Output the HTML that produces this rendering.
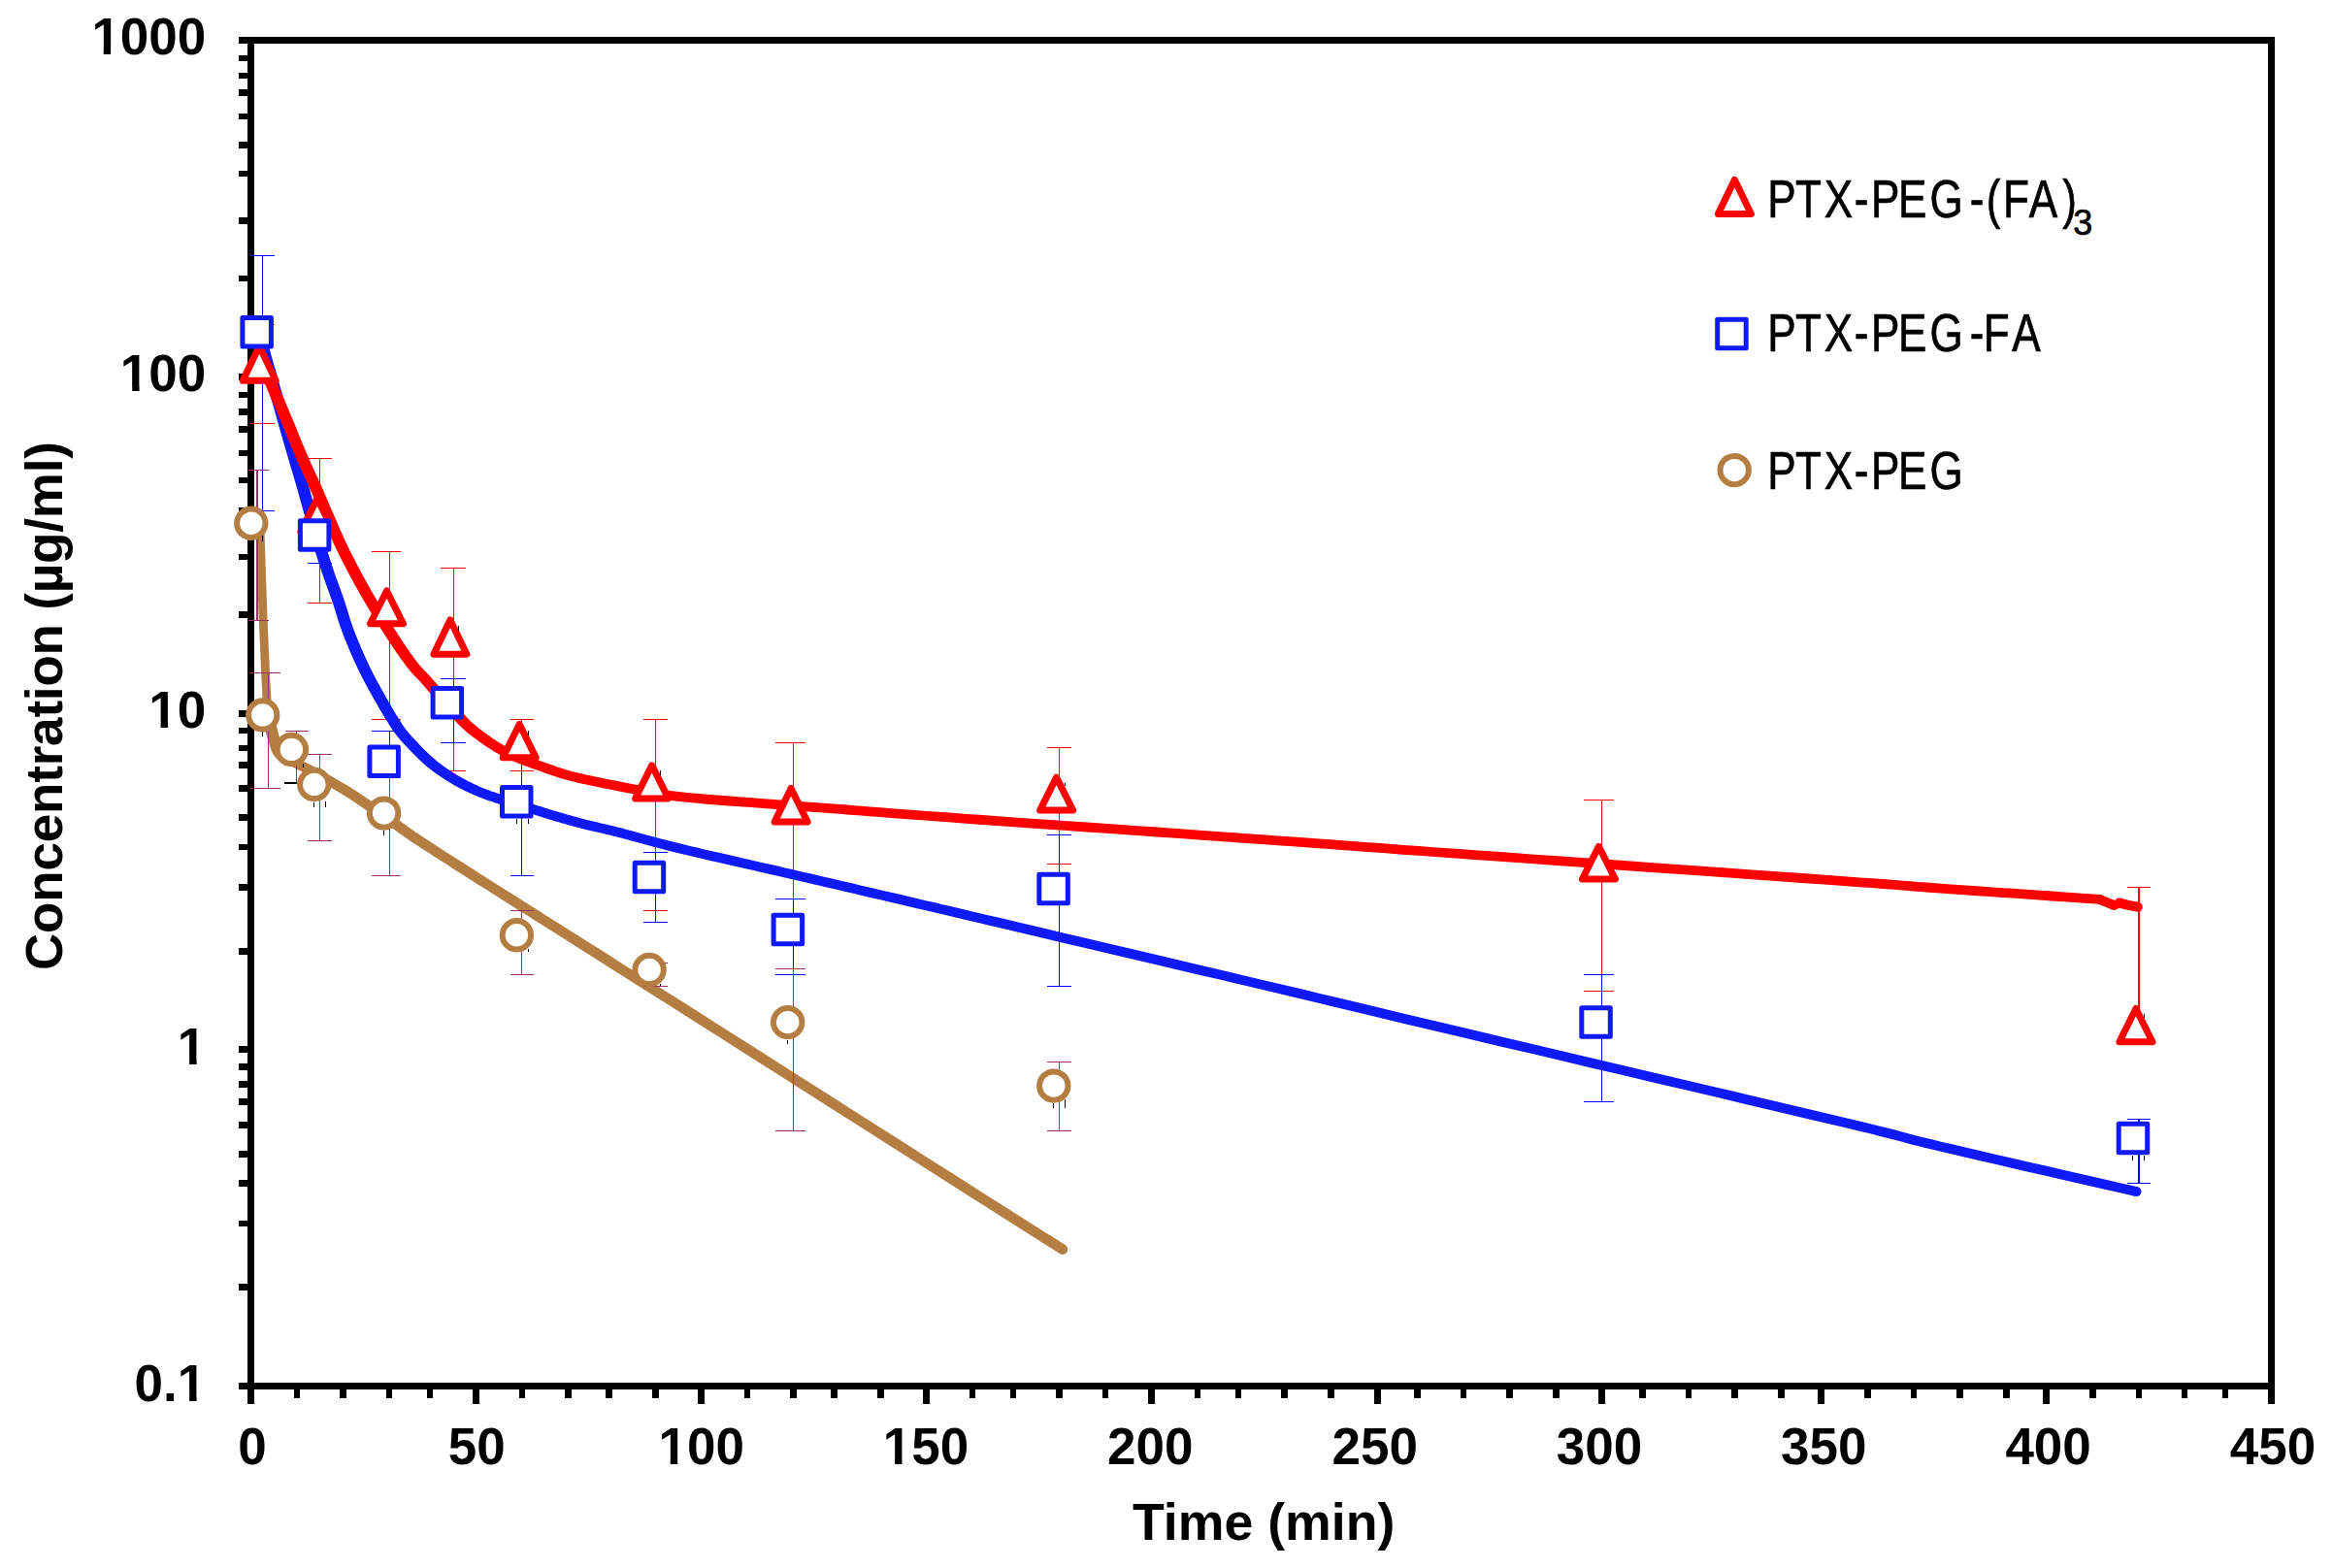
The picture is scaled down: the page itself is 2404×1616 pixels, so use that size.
<!DOCTYPE html>
<html lang="en"><head><meta charset="utf-8"><title>Concentration vs Time</title>
<style>html,body{margin:0;padding:0;background:#fff}svg{display:block}.ax{font-family:"Liberation Sans",Arial,sans-serif;font-weight:bold;font-size:53px;fill:#000}.lg{font-family:"Liberation Sans",Arial,sans-serif;font-size:55.1px;fill:#000;stroke:#000;stroke-width:0.7px}</style></head><body>
<svg width="2404" height="1616" viewBox="0 0 2404 1616">
<rect width="2404" height="1616" fill="#fff"/>
<g fill="#000" shape-rendering="crispEdges">
<rect x="246" y="38" width="2098" height="7"/>
<rect x="255" y="38" width="7" height="1409"/>
<rect x="2337" y="38" width="7" height="1409"/>
<rect x="246" y="1425" width="2098" height="7"/>
<rect x="246" y="384.8" width="10" height="7"/>
<rect x="246" y="731.5" width="10" height="7"/>
<rect x="246" y="1078.4" width="10" height="7"/>
<rect x="246" y="56.8" width="10" height="6.4"/>
<rect x="246" y="74.7" width="10" height="6.4"/>
<rect x="246" y="92.2" width="10" height="6.4"/>
<rect x="246" y="116.5" width="10" height="6.4"/>
<rect x="246" y="146.2" width="10" height="6.4"/>
<rect x="246" y="175.9" width="10" height="6.4"/>
<rect x="246" y="224.1" width="10" height="6.4"/>
<rect x="246" y="283.5" width="10" height="6.4"/>
<rect x="246" y="403.5" width="10" height="6.4"/>
<rect x="246" y="421.2" width="10" height="6.4"/>
<rect x="246" y="439.3" width="10" height="6.4"/>
<rect x="246" y="463.6" width="10" height="6.4"/>
<rect x="246" y="491.9" width="10" height="6.4"/>
<rect x="246" y="522.7" width="10" height="6.4"/>
<rect x="246" y="570.7" width="10" height="6.4"/>
<rect x="246" y="630.1" width="10" height="6.4"/>
<rect x="246" y="749.5" width="10" height="6.4"/>
<rect x="246" y="767.7" width="10" height="6.4"/>
<rect x="246" y="785.4" width="10" height="6.4"/>
<rect x="246" y="809.4" width="10" height="6.4"/>
<rect x="246" y="839.2" width="10" height="6.4"/>
<rect x="246" y="869.5" width="10" height="6.4"/>
<rect x="246" y="911.4" width="10" height="6.4"/>
<rect x="246" y="977.3" width="10" height="6.4"/>
<rect x="246" y="1096.3" width="10" height="6.4"/>
<rect x="246" y="1114.2" width="10" height="6.4"/>
<rect x="246" y="1132.1" width="10" height="6.4"/>
<rect x="246" y="1156.3" width="10" height="6.4"/>
<rect x="246" y="1186.1" width="10" height="6.4"/>
<rect x="246" y="1216.2" width="10" height="6.4"/>
<rect x="246" y="1257.6" width="10" height="6.4"/>
<rect x="246" y="1323.4" width="10" height="6.4"/>
<rect x="487.3" y="1431" width="7" height="16"/>
<rect x="719.3" y="1431" width="7" height="16"/>
<rect x="951.3" y="1431" width="7" height="16"/>
<rect x="1183.3" y="1431" width="7" height="16"/>
<rect x="1415.5" y="1431" width="7" height="16"/>
<rect x="1647.4" y="1431" width="7" height="16"/>
<rect x="1873.1" y="1431" width="7" height="16"/>
<rect x="2105.4" y="1431" width="7" height="16"/>
<rect x="302.7" y="1431" width="6.4" height="10"/>
<rect x="350.3" y="1431" width="6.4" height="10"/>
<rect x="397.8" y="1431" width="6.4" height="10"/>
<rect x="439.8" y="1431" width="6.4" height="10"/>
<rect x="534.7" y="1431" width="6.4" height="10"/>
<rect x="582.2" y="1431" width="6.4" height="10"/>
<rect x="624.2" y="1431" width="6.4" height="10"/>
<rect x="672.3" y="1431" width="6.4" height="10"/>
<rect x="766.9" y="1431" width="6.4" height="10"/>
<rect x="814.2" y="1431" width="6.4" height="10"/>
<rect x="856.3" y="1431" width="6.4" height="10"/>
<rect x="904.2" y="1431" width="6.4" height="10"/>
<rect x="998.7" y="1431" width="6.4" height="10"/>
<rect x="1040.7" y="1431" width="6.4" height="10"/>
<rect x="1088.3" y="1431" width="6.4" height="10"/>
<rect x="1136.0" y="1431" width="6.4" height="10"/>
<rect x="1231.0" y="1431" width="6.4" height="10"/>
<rect x="1272.6" y="1431" width="6.4" height="10"/>
<rect x="1320.3" y="1431" width="6.4" height="10"/>
<rect x="1368.1" y="1431" width="6.4" height="10"/>
<rect x="1457.2" y="1431" width="6.4" height="10"/>
<rect x="1504.6" y="1431" width="6.4" height="10"/>
<rect x="1552.2" y="1431" width="6.4" height="10"/>
<rect x="1600.1" y="1431" width="6.4" height="10"/>
<rect x="1689.2" y="1431" width="6.4" height="10"/>
<rect x="1736.8" y="1431" width="6.4" height="10"/>
<rect x="1784.2" y="1431" width="6.4" height="10"/>
<rect x="1832.2" y="1431" width="6.4" height="10"/>
<rect x="1921.1" y="1431" width="6.4" height="10"/>
<rect x="1969.0" y="1431" width="6.4" height="10"/>
<rect x="2016.3" y="1431" width="6.4" height="10"/>
<rect x="2064.2" y="1431" width="6.4" height="10"/>
<rect x="2153.3" y="1431" width="6.4" height="10"/>
<rect x="2200.7" y="1431" width="6.4" height="10"/>
<rect x="2248.0" y="1431" width="6.4" height="10"/>
<rect x="2290.0" y="1431" width="6.4" height="10"/>
</g>
<text class="ax" x="212.3" y="56.0" text-anchor="end">1000</text>
<text class="ax" x="212.3" y="403.0" text-anchor="end">100</text>
<text class="ax" x="212.3" y="750.0" text-anchor="end">10</text>
<text class="ax" x="212.3" y="1096.5" text-anchor="end">1</text>
<text class="ax" x="212.3" y="1443.5" text-anchor="end">0.1</text>
<text class="ax" x="260.0" y="1508.5" text-anchor="middle">0</text>
<text class="ax" x="491.3" y="1508.5" text-anchor="middle">50</text>
<text class="ax" x="722.7" y="1508.5" text-anchor="middle">100</text>
<text class="ax" x="954.0" y="1508.5" text-anchor="middle">150</text>
<text class="ax" x="1185.3" y="1508.5" text-anchor="middle">200</text>
<text class="ax" x="1416.7" y="1508.5" text-anchor="middle">250</text>
<text class="ax" x="1648.0" y="1508.5" text-anchor="middle">300</text>
<text class="ax" x="1879.3" y="1508.5" text-anchor="middle">350</text>
<text class="ax" x="2110.6" y="1508.5" text-anchor="middle">400</text>
<text class="ax" x="2342.0" y="1508.5" text-anchor="middle">450</text>
<rect x="96.7" y="50.0" width="10.0" height="7" fill="#fff"/>
<rect x="114.1" y="50.0" width="9.6" height="7" fill="#fff"/>
<rect x="126.2" y="397.0" width="10.0" height="7" fill="#fff"/>
<rect x="143.6" y="397.0" width="9.6" height="7" fill="#fff"/>
<rect x="155.6" y="744.0" width="10.0" height="7" fill="#fff"/>
<rect x="173.1" y="744.0" width="9.6" height="7" fill="#fff"/>
<rect x="185.1" y="1090.5" width="10.0" height="7" fill="#fff"/>
<rect x="202.6" y="1090.5" width="9.6" height="7" fill="#fff"/>
<rect x="185.1" y="1437.5" width="10.0" height="7" fill="#fff"/>
<rect x="202.6" y="1437.5" width="9.6" height="7" fill="#fff"/>
<rect x="680.7" y="1502.5" width="10.0" height="7" fill="#fff"/>
<rect x="698.2" y="1502.5" width="9.6" height="7" fill="#fff"/>
<rect x="912.1" y="1502.5" width="10.0" height="7" fill="#fff"/>
<rect x="929.5" y="1502.5" width="9.6" height="7" fill="#fff"/>
<text class="ax" x="1302.2" y="1587" text-anchor="middle" textLength="270.3" lengthAdjust="spacingAndGlyphs">Time (min)</text>
<text class="ax" transform="translate(63.5 727.5) rotate(-90)" text-anchor="middle" textLength="545" lengthAdjust="spacing">Concentration (µg/ml)</text>
<g shape-rendering="crispEdges">
<path d="M270.6 334.6V436.6M257.8 334.6H282.6M257.8 436.6H282.6" stroke="#FF0000" stroke-width="1.4" fill="none"/>
<path d="M329.5 472.7V621.6M317.2 472.7H342.0M317.2 621.6H342.0" stroke="#FF0000" stroke-width="1.4" fill="none"/>
<path d="M401.5 568.4V741.4M383.3 568.4H412.7M383.3 741.4H412.7" stroke="#FF0000" stroke-width="1.4" fill="none"/>
<path d="M467.6 585.5V794.4M454.2 585.5H479.8M454.2 794.4H479.8" stroke="#FF0000" stroke-width="1.4" fill="none"/>
<path d="M537.6 741.4V794.4M526.2 741.4H549.9M526.2 794.4H549.9" stroke="#FF0000" stroke-width="1.4" fill="none"/>
<path d="M675.5 741.3V938.5M663.2 741.3H687.8M663.2 938.5H687.8" stroke="#FF0000" stroke-width="1.4" fill="none"/>
<path d="M1091.4 770.4V890.4M1079.2 770.4H1103.7M1079.2 890.4H1103.7" stroke="#FF0000" stroke-width="1.4" fill="none"/>
<path d="M1650.5 824.4V1021.3M1632.1 824.4H1662.8M1632.1 1021.3H1662.8" stroke="#FF0000" stroke-width="1.4" fill="none"/>
<path d="M817.6 765.5V930M799.2 765.5H830M2204.1 914.3V1056M2192.1 914.3H2216.1" stroke="#FF0000" stroke-width="1.4" fill="none"/>
<path d="M270.6 263.5V526.6M257.8 263.5H282.6M257.8 526.6H282.6" stroke="#0000FF" stroke-width="1.4" fill="none"/>
<path d="M329.5 528.0V580.5M317.2 528.0H342.0M317.2 580.5H342.0" stroke="#0000FF" stroke-width="1.4" fill="none"/>
<path d="M467.6 699.6V765.6M454.2 699.6H479.8M454.2 765.6H479.8" stroke="#0000FF" stroke-width="1.4" fill="none"/>
<path d="M537.6 774.0V902.5M526.2 774.0H549.9M526.2 902.5H549.9" stroke="#0000FF" stroke-width="1.4" fill="none"/>
<path d="M675.5 878.5V950.4M663.2 878.5H687.8M663.2 950.4H687.8" stroke="#0000FF" stroke-width="1.4" fill="none"/>
<path d="M817.6 926.5V1004.5M799.3 926.5H830.0M799.3 1004.5H830.0" stroke="#0000FF" stroke-width="1.4" fill="none"/>
<path d="M1091.4 860.6V1016.5M1079.2 860.6H1103.7M1079.2 1016.5H1103.7" stroke="#0000FF" stroke-width="1.4" fill="none"/>
<path d="M1650.5 1004.2V1135.4M1632.1 1004.2H1662.8M1632.1 1135.4H1662.8" stroke="#0000FF" stroke-width="1.4" fill="none"/>
<path d="M2204.1 1153.4V1219.2M2192.1 1153.4H2216.1M2192.1 1219.2H2216.1" stroke="#0000FF" stroke-width="1.4" fill="none"/>
<path d="M401.5 753.5V790M383.3 753.5H412.7" stroke="#0000FF" stroke-width="1.4" fill="none"/>
</g>
<polygon points="261.9,348.1 262.0,348.6 262.1,349.1 262.3,349.6 262.4,350.2 262.6,350.7 262.8,351.4 263.0,352.2 263.3,353.1 263.6,354.2 263.9,355.4 264.3,356.9 264.8,358.5 265.3,360.5 265.9,362.6 266.6,365.2 267.5,368.2 268.4,371.4 269.4,375.0 270.5,378.8 271.6,382.8 272.7,386.9 273.9,391.0 275.0,395.1 276.2,399.2 277.3,403.1 278.3,406.9 279.3,410.4 280.2,413.7 281.1,416.7 281.9,419.5 282.7,422.3 283.4,425.0 284.1,427.6 284.9,430.1 285.5,432.5 286.2,434.9 286.9,437.3 287.5,439.6 288.2,441.9 288.8,444.1 289.5,446.4 290.1,448.7 290.8,450.9 291.4,453.2 292.1,455.4 292.7,457.6 293.3,459.7 293.9,461.8 294.5,463.9 295.1,465.9 295.7,468.0 296.3,470.0 296.9,471.9 297.4,473.9 298.0,475.8 298.5,477.7 299.1,479.6 299.6,481.4 300.2,483.2 300.7,484.9 301.2,486.6 301.7,488.2 302.2,489.9 302.7,491.5 303.1,493.2 303.6,494.8 304.1,496.5 304.6,498.2 305.1,499.9 305.6,501.7 306.2,503.5 306.7,505.3 307.2,507.2 307.7,509.1 308.2,511.0 308.8,512.9 309.3,514.9 309.8,516.8 310.4,518.8 310.9,520.7 311.5,522.7 312.0,524.7 312.6,526.7 313.1,528.7 313.7,530.6 314.2,532.6 314.8,534.7 315.4,536.7 316.0,538.7 316.5,540.8 317.1,542.9 317.7,544.9 318.3,546.9 318.9,549.0 319.5,550.9 320.0,552.9 320.6,554.8 321.2,556.7 321.7,558.6 322.3,560.5 322.9,562.3 323.4,564.2 324.0,566.0 324.6,567.8 325.1,569.6 325.7,571.4 326.2,573.1 326.8,574.7 327.3,576.4 327.8,577.9 328.3,579.4 328.7,580.9 329.1,582.2 329.5,583.4 329.9,584.5 330.2,585.6 330.6,586.6 330.9,587.5 331.2,588.5 331.5,589.4 331.8,590.4 332.2,591.4 332.5,592.5 332.9,593.6 333.4,594.9 333.9,596.3 334.4,597.8 335.0,599.5 335.6,601.2 336.3,602.9 336.9,604.8 337.6,606.6 338.3,608.5 339.0,610.5 339.7,612.4 340.4,614.4 341.1,616.3 341.8,618.2 342.4,620.1 343.0,621.9 343.6,623.7 344.2,625.6 344.8,627.4 345.4,629.2 345.9,631.1 346.5,633.0 347.1,634.8 347.6,636.7 348.2,638.6 348.8,640.5 349.4,642.4 350.1,644.3 350.7,646.2 351.4,648.1 352.1,650.0 352.8,651.9 353.5,653.7 354.2,655.6 354.9,657.4 355.6,659.3 356.4,661.1 357.1,663.0 357.9,664.8 358.7,666.6 359.4,668.5 360.2,670.3 361.0,672.2 361.8,674.0 362.6,675.8 363.4,677.7 364.3,679.5 365.1,681.4 365.9,683.2 366.8,685.0 367.7,686.9 368.5,688.7 369.4,690.6 370.3,692.4 371.2,694.3 372.1,696.1 373.1,697.9 374.0,699.8 375.0,701.7 376.0,703.6 377.0,705.5 378.1,707.5 379.2,709.4 380.2,711.4 381.3,713.3 382.4,715.2 383.4,717.1 384.5,718.9 385.5,720.7 386.5,722.4 387.4,724.0 388.3,725.6 389.1,727.1 389.9,728.5 390.7,729.9 391.4,731.2 392.2,732.4 392.9,733.6 393.6,734.8 394.3,736.0 395.0,737.2 395.7,738.3 396.4,739.5 397.1,740.7 397.9,741.9 398.7,743.1 399.4,744.3 400.1,745.5 400.8,746.6 401.5,747.8 402.2,749.0 403.0,750.1 403.8,751.4 404.6,752.6 405.5,753.9 406.5,755.3 407.6,756.6 408.7,758.1 410.0,759.6 411.3,761.2 412.7,762.8 414.3,764.6 416.0,766.4 417.7,768.3 419.6,770.3 421.4,772.3 423.4,774.3 425.3,776.3 427.3,778.3 429.3,780.3 431.3,782.2 433.2,784.0 435.1,785.7 436.9,787.4 438.7,788.9 440.5,790.4 442.2,791.8 443.9,793.2 445.6,794.5 447.3,795.7 449.0,797.0 450.7,798.2 452.4,799.3 454.0,800.5 455.8,801.6 457.5,802.7 459.2,803.8 461.0,805.0 462.8,806.1 464.7,807.2 466.5,808.3 468.4,809.4 470.3,810.4 472.2,811.4 474.2,812.5 476.1,813.5 478.0,814.4 479.9,815.4 481.9,816.3 483.8,817.2 485.7,818.1 487.6,819.0 489.5,819.8 491.4,820.6 493.4,821.4 495.3,822.1 497.2,822.8 499.1,823.5 501.0,824.2 502.9,824.9 504.8,825.5 506.6,826.1 508.5,826.8 510.3,827.4 512.1,828.0 513.9,828.6 515.7,829.2 517.6,829.7 519.3,830.3 521.1,830.8 522.9,831.3 524.6,831.8 526.3,832.3 528.0,832.7 529.8,833.2 531.5,833.7 533.2,834.2 535.0,834.7 536.7,835.2 538.5,835.8 540.4,836.4 542.2,836.9 544.0,837.5 545.9,838.1 547.7,838.7 549.6,839.3 551.5,839.9 553.5,840.6 555.4,841.2 557.4,841.8 559.5,842.5 561.5,843.1 563.6,843.8 565.8,844.4 567.9,845.0 570.1,845.7 572.4,846.4 574.7,847.0 577.0,847.7 579.3,848.4 581.7,849.1 584.1,849.7 586.5,850.4 588.9,851.1 591.3,851.8 593.8,852.4 596.3,853.1 598.7,853.7 601.2,854.3 603.5,854.9 605.8,855.5 608.0,856.0 610.2,856.5 612.5,857.0 614.7,857.5 617.1,858.1 619.6,858.6 622.2,859.2 625.0,859.9 628.0,860.6 631.3,861.4 634.8,862.3 638.5,863.3 642.3,864.3 646.3,865.3 650.3,866.4 654.6,867.6 659.0,868.8 663.6,870.0 668.4,871.3 673.4,872.7 678.7,874.0 684.1,875.4 689.9,876.9 695.9,878.4 702.1,879.9 708.8,881.5 716.0,883.2 723.7,885.0 731.7,886.9 740.0,888.8 748.5,890.7 757.1,892.7 765.7,894.7 774.3,896.6 782.8,898.6 791.1,900.5 799.1,902.3 806.8,904.1 814.1,905.7 820.9,907.3 827.5,908.8 833.8,910.3 840.0,911.7 845.9,913.1 851.7,914.5 857.5,915.8 863.2,917.1 868.9,918.4 874.6,919.8 880.4,921.1 886.4,922.5 892.5,924.0 898.9,925.4 904.9,926.8 910.2,928.1 915.0,929.2 919.4,930.2 923.8,931.3 928.3,932.3 933.2,933.4 938.6,934.7 944.8,936.2 951.9,937.8 960.3,939.8 970.1,942.1 981.6,944.8 994.9,947.9 1010.4,951.6 1028.3,955.8 1048.1,960.5 1069.6,965.5 1092.3,970.9 1116.1,976.4 1140.4,982.2 1164.9,987.9 1189.4,993.7 1213.5,999.4 1236.8,1004.9 1259.1,1010.1 1279.9,1015.0 1298.9,1019.5 1315.9,1023.6 1331.1,1027.2 1345.0,1030.5 1357.7,1033.5 1369.7,1036.4 1381.3,1039.2 1392.8,1042.0 1404.6,1044.8 1416.9,1047.7 1430.2,1050.9 1444.6,1054.4 1460.7,1058.2 1478.7,1062.4 1498.9,1067.2 1522.0,1072.7 1548.1,1078.9 1576.8,1085.6 1607.3,1092.8 1639.3,1100.4 1672.0,1108.1 1705.1,1115.9 1737.9,1123.6 1769.9,1131.1 1800.6,1138.4 1829.4,1145.2 1855.7,1151.4 1879.0,1156.9 1898.8,1161.6 1915.0,1165.5 1928.0,1168.6 1938.2,1171.2 1946.3,1173.2 1952.4,1174.8 1957.2,1176.0 1961.1,1177.1 1964.5,1178.0 1967.8,1178.9 1971.5,1179.9 1976.1,1181.0 1981.8,1182.5 1989.3,1184.3 1998.9,1186.5 2010.6,1189.3 2024.1,1192.4 2039.0,1195.9 2054.9,1199.6 2071.6,1203.4 2088.7,1207.4 2105.9,1211.3 2122.8,1215.2 2139.1,1218.9 2154.5,1222.4 2168.7,1225.7 2181.3,1228.6 2192.0,1231.0 2200.4,1232.9 2202.6,1223.3 2194.2,1221.3 2183.5,1218.9 2170.9,1216.0 2156.8,1212.8 2141.4,1209.2 2125.0,1205.5 2108.1,1201.6 2090.9,1197.7 2073.8,1193.7 2057.2,1189.9 2041.2,1186.2 2026.3,1182.8 2012.9,1179.6 2001.1,1176.9 1991.6,1174.6 1984.2,1172.8 1978.5,1171.4 1974.0,1170.2 1970.4,1169.3 1967.1,1168.4 1963.7,1167.4 1959.8,1166.4 1954.9,1165.1 1948.7,1163.5 1940.6,1161.5 1930.3,1159.0 1917.3,1155.8 1901.2,1152.0 1881.3,1147.3 1858.0,1141.7 1831.7,1135.5 1802.9,1128.7 1772.2,1121.5 1740.2,1113.9 1707.4,1106.2 1674.3,1098.4 1641.5,1090.7 1609.6,1083.2 1579.0,1076.0 1550.4,1069.2 1524.3,1063.0 1501.1,1057.6 1480.9,1052.8 1463.0,1048.5 1446.9,1044.7 1432.5,1041.2 1419.2,1038.1 1406.9,1035.1 1395.2,1032.3 1383.7,1029.5 1372.1,1026.8 1360.0,1023.9 1347.3,1020.8 1333.4,1017.5 1318.2,1013.9 1301.1,1009.9 1282.1,1005.4 1261.4,1000.5 1239.1,995.2 1215.8,989.7 1191.7,984.0 1167.2,978.3 1142.6,972.5 1118.3,966.8 1094.6,961.2 1071.9,955.8 1050.4,950.8 1030.6,946.1 1012.7,941.9 997.1,938.3 983.8,935.1 972.4,932.4 962.6,930.1 954.2,928.2 947.0,926.5 940.8,925.0 935.4,923.8 930.6,922.6 926.1,921.6 921.7,920.6 917.2,919.5 912.4,918.4 907.1,917.2 901.1,915.8 894.8,914.3 888.7,912.9 882.7,911.5 876.9,910.1 871.1,908.8 865.4,907.4 859.7,906.1 854.0,904.8 848.1,903.4 842.2,902.1 836.1,900.6 829.8,899.2 823.2,897.7 816.3,896.1 809.0,894.4 801.4,892.6 793.3,890.8 785.0,888.9 776.5,887.0 767.9,885.0 759.3,883.0 750.7,881.1 742.2,879.1 733.9,877.2 725.9,875.4 718.3,873.6 711.1,871.9 704.5,870.3 698.2,868.7 692.3,867.3 686.6,865.8 681.2,864.4 676.0,863.0 671.0,861.7 666.2,860.4 661.6,859.2 657.2,858.0 652.9,856.8 648.8,855.7 644.9,854.7 641.0,853.6 637.2,852.7 633.7,851.8 630.4,851.0 627.3,850.2 624.5,849.6 621.8,849.0 619.3,848.4 616.9,847.8 614.7,847.3 612.5,846.8 610.3,846.3 608.1,845.8 605.9,845.3 603.6,844.7 601.3,844.1 598.8,843.4 596.4,842.8 594.0,842.1 591.6,841.5 589.2,840.8 586.8,840.1 584.4,839.4 582.1,838.8 579.8,838.1 577.5,837.4 575.2,836.8 573.0,836.1 570.8,835.4 568.6,834.8 566.5,834.2 564.5,833.5 562.5,832.9 560.5,832.3 558.5,831.6 556.6,831.0 554.6,830.4 552.7,829.8 550.8,829.2 548.9,828.6 547.1,828.0 545.2,827.4 543.3,826.8 541.5,826.2 539.6,825.7 537.8,825.1 536.0,824.6 534.2,824.1 532.5,823.6 530.7,823.1 529.0,822.6 527.3,822.2 525.6,821.7 523.9,821.2 522.2,820.7 520.5,820.1 518.8,819.6 517.1,819.0 515.3,818.4 513.5,817.8 511.7,817.2 509.8,816.6 508.0,816.0 506.2,815.4 504.4,814.7 502.6,814.0 500.8,813.4 499.0,812.7 497.2,811.9 495.4,811.2 493.6,810.4 491.8,809.6 490.0,808.8 488.2,807.9 486.3,807.1 484.5,806.1 482.7,805.2 480.8,804.3 479.0,803.3 477.2,802.3 475.4,801.3 473.6,800.3 471.8,799.2 470.1,798.2 468.3,797.1 466.6,796.0 464.9,795.0 463.2,793.9 461.6,792.8 460.0,791.7 458.4,790.6 456.9,789.5 455.3,788.3 453.8,787.2 452.2,786.0 450.6,784.7 449.1,783.4 447.5,782.1 445.9,780.7 444.3,779.2 442.6,777.7 440.8,776.0 439.0,774.2 437.1,772.4 435.2,770.5 433.3,768.5 431.4,766.6 429.6,764.6 427.7,762.6 426.0,760.7 424.3,758.9 422.7,757.1 421.2,755.4 419.9,753.8 418.7,752.4 417.7,751.0 416.7,749.7 415.8,748.5 415.0,747.3 414.3,746.2 413.6,745.1 412.9,744.0 412.2,742.8 411.5,741.7 410.8,740.6 410.1,739.4 409.3,738.1 408.5,736.9 407.8,735.7 407.0,734.5 406.3,733.4 405.7,732.3 405.0,731.1 404.4,730.0 403.7,728.9 403.0,727.7 402.4,726.6 401.7,725.3 400.9,724.0 400.2,722.7 399.4,721.3 398.5,719.8 397.6,718.2 396.7,716.6 395.7,714.9 394.7,713.1 393.7,711.3 392.7,709.4 391.6,707.5 390.6,705.6 389.5,703.7 388.5,701.8 387.5,699.9 386.5,698.1 385.5,696.2 384.6,694.4 383.7,692.6 382.8,690.8 381.9,689.0 381.0,687.2 380.2,685.4 379.3,683.6 378.5,681.8 377.6,680.0 376.8,678.2 376.0,676.4 375.2,674.6 374.4,672.8 373.6,671.0 372.8,669.2 372.0,667.4 371.3,665.6 370.5,663.8 369.7,662.0 369.0,660.2 368.3,658.4 367.6,656.6 366.8,654.9 366.1,653.1 365.5,651.3 364.8,649.5 364.1,647.7 363.4,645.9 362.8,644.1 362.2,642.3 361.6,640.5 361.0,638.7 360.4,636.8 359.8,635.0 359.3,633.2 358.7,631.3 358.1,629.4 357.6,627.5 357.0,625.7 356.4,623.8 355.8,621.9 355.2,620.0 354.6,618.1 353.9,616.2 353.2,614.2 352.5,612.3 351.8,610.3 351.1,608.3 350.4,606.3 349.7,604.4 349.0,602.5 348.3,600.6 347.6,598.8 347.0,597.1 346.4,595.4 345.8,593.8 345.3,592.3 344.8,590.9 344.4,589.7 344.0,588.5 343.7,587.5 343.3,586.5 343.0,585.5 342.7,584.6 342.4,583.7 342.1,582.8 341.8,581.8 341.5,580.8 341.1,579.7 340.7,578.5 340.3,577.1 339.8,575.7 339.3,574.2 338.9,572.7 338.3,571.0 337.8,569.4 337.3,567.7 336.7,566.0 336.2,564.2 335.6,562.4 335.1,560.6 334.5,558.8 333.9,556.9 333.4,555.1 332.8,553.3 332.3,551.4 331.7,549.5 331.2,547.5 330.6,545.6 330.0,543.6 329.4,541.6 328.9,539.5 328.3,537.5 327.7,535.4 327.1,533.4 326.6,531.4 326.0,529.3 325.4,527.3 324.9,525.3 324.3,523.4 323.8,521.4 323.2,519.5 322.7,517.5 322.2,515.5 321.6,513.6 321.1,511.6 320.5,509.7 320.0,507.8 319.5,505.8 319.0,503.9 318.4,502.0 317.9,500.2 317.4,498.3 316.8,496.5 316.3,494.8 315.8,493.0 315.3,491.3 314.8,489.7 314.3,488.0 313.8,486.4 313.3,484.7 312.9,483.1 312.4,481.4 311.8,479.7 311.3,477.9 310.8,476.1 310.3,474.3 309.7,472.4 309.1,470.5 308.6,468.5 308.0,466.5 307.4,464.6 306.8,462.5 306.2,460.5 305.6,458.4 305.0,456.3 304.4,454.2 303.8,452.0 303.2,449.8 302.5,447.6 301.9,445.3 301.2,443.0 300.6,440.8 299.9,438.5 299.3,436.2 298.6,433.9 298.0,431.6 297.3,429.2 296.6,426.8 295.9,424.3 295.2,421.7 294.4,419.0 293.6,416.2 292.8,413.4 292.0,410.3 291.1,407.1 290.1,403.6 289.0,399.8 287.9,395.9 286.8,391.8 285.6,387.7 284.5,383.6 283.3,379.5 282.2,375.5 281.1,371.7 280.1,368.2 279.2,364.9 278.4,361.9 277.7,359.4 277.1,357.2 276.5,355.2 276.1,353.6 275.7,352.1 275.3,350.9 275.0,349.8 274.8,348.9 274.5,348.1 274.4,347.5 274.2,346.9 274.0,346.4 273.9,345.9 273.8,345.4 273.6,344.9" fill="#1019F9"/>
<circle cx="267.8" cy="346.5" r="6.1" fill="#1019F9"/>
<circle cx="2201.5" cy="1228.1" r="5.0" fill="#1019F9"/>
<polygon points="262.2,370.0 262.7,371.1 263.2,372.5 263.9,374.0 264.6,375.7 265.4,377.6 266.2,379.6 267.1,381.7 268.0,383.9 269.0,386.2 270.0,388.6 271.0,390.9 272.0,393.3 273.0,395.7 274.0,398.0 275.0,400.4 276.0,402.8 277.1,405.3 278.2,407.9 279.3,410.5 280.4,413.2 281.6,415.8 282.7,418.5 283.9,421.3 285.0,424.0 286.2,426.7 287.3,429.4 288.5,432.1 289.6,434.7 290.7,437.3 291.7,440.0 292.8,442.7 293.9,445.3 295.0,448.0 296.1,450.7 297.2,453.4 298.3,456.1 299.4,458.8 300.5,461.4 301.6,464.1 302.7,466.7 303.8,469.3 304.9,471.9 306.0,474.4 307.1,476.9 308.2,479.4 309.3,481.9 310.5,484.3 311.6,486.8 312.7,489.2 313.8,491.6 314.8,493.9 315.9,496.3 317.0,498.6 318.0,500.9 319.0,503.2 320.0,505.4 321.0,507.6 322.0,509.8 322.9,512.0 323.8,514.2 324.7,516.3 325.6,518.4 326.5,520.5 327.4,522.6 328.3,524.7 329.2,526.8 330.1,529.0 331.0,531.1 332.0,533.2 332.9,535.4 333.9,537.6 334.8,539.7 335.7,541.9 336.7,544.1 337.6,546.3 338.6,548.5 339.6,550.7 340.6,552.9 341.6,555.1 342.6,557.4 343.6,559.6 344.6,561.8 345.7,564.0 346.7,566.3 347.8,568.5 348.9,570.8 350.1,573.1 351.2,575.4 352.4,577.7 353.6,579.9 354.7,582.2 355.9,584.5 357.1,586.8 358.3,589.0 359.4,591.2 360.6,593.3 361.7,595.4 362.8,597.5 363.9,599.5 364.9,601.4 365.9,603.2 366.9,605.0 367.9,606.8 368.9,608.5 369.8,610.2 370.8,612.0 371.8,613.7 372.9,615.5 373.9,617.4 375.1,619.2 376.2,621.2 377.5,623.3 378.7,625.5 380.1,627.7 381.5,630.0 382.9,632.4 384.4,634.8 385.9,637.3 387.4,639.8 388.9,642.3 390.5,644.8 392.0,647.3 393.6,649.8 395.2,652.2 396.7,654.6 398.2,657.0 399.7,659.3 401.3,661.6 402.8,664.0 404.4,666.4 406.0,668.7 407.6,671.1 409.2,673.4 410.8,675.6 412.3,677.9 413.8,680.0 415.4,682.1 416.8,684.1 418.3,686.1 419.7,687.9 421.0,689.6 422.3,691.2 423.6,692.6 424.8,693.9 425.9,695.2 427.0,696.4 428.1,697.5 429.2,698.6 430.3,699.7 431.3,700.8 432.4,701.9 433.5,703.1 434.6,704.4 435.8,705.7 437.0,707.2 438.4,708.7 439.7,710.3 441.1,711.9 442.5,713.5 443.9,715.2 445.4,716.9 446.9,718.6 448.3,720.3 449.8,722.0 451.3,723.7 452.8,725.4 454.3,727.1 455.8,728.8 457.3,730.4 458.8,732.1 460.4,733.7 461.9,735.4 463.5,737.1 465.1,738.8 466.6,740.5 468.2,742.2 469.8,743.8 471.3,745.4 472.9,746.9 474.4,748.4 475.9,749.9 477.3,751.2 478.8,752.5 480.1,753.7 481.5,754.9 482.8,756.0 484.1,757.0 485.4,758.0 486.6,759.0 487.9,759.9 489.1,760.8 490.3,761.7 491.5,762.6 492.7,763.5 493.9,764.4 495.2,765.2 496.4,766.1 497.7,767.0 498.9,767.9 500.1,768.7 501.4,769.5 502.6,770.4 503.9,771.2 505.1,772.0 506.4,772.8 507.7,773.6 508.9,774.4 510.3,775.1 511.6,775.9 512.9,776.6 514.3,777.4 515.7,778.1 517.0,778.8 518.4,779.5 519.8,780.2 521.2,780.9 522.6,781.6 524.0,782.3 525.5,782.9 527.0,783.6 528.4,784.2 529.9,784.9 531.5,785.5 533.0,786.2 534.6,786.9 536.3,787.5 537.9,788.1 539.6,788.8 541.3,789.4 543.0,790.0 544.7,790.6 546.4,791.3 548.2,791.9 549.9,792.5 551.7,793.1 553.4,793.7 555.2,794.3 556.9,795.0 558.7,795.6 560.5,796.2 562.3,796.9 564.1,797.5 566.0,798.1 567.9,798.8 569.7,799.4 571.6,800.1 573.5,800.7 575.4,801.3 577.3,801.9 579.2,802.5 581.1,803.1 583.0,803.6 584.9,804.1 586.8,804.6 588.7,805.1 590.6,805.6 592.5,806.0 594.3,806.4 596.2,806.9 598.1,807.3 599.9,807.7 601.8,808.1 603.6,808.5 605.5,808.9 607.3,809.2 609.2,809.6 611.0,810.0 612.9,810.4 614.8,810.8 616.7,811.2 618.6,811.6 620.5,812.0 622.4,812.4 624.3,812.8 626.2,813.1 628.0,813.5 629.9,813.8 631.6,814.2 633.4,814.5 635.0,814.9 636.6,815.2 638.0,815.5 639.3,815.7 640.6,816.0 641.7,816.2 642.9,816.5 644.1,816.7 645.4,817.0 646.7,817.2 648.2,817.5 649.9,817.8 651.7,818.1 653.7,818.5 656.0,818.9 658.4,819.3 660.8,819.7 663.4,820.2 666.1,820.7 669.0,821.3 672.0,821.8 675.1,822.4 678.4,823.0 681.9,823.5 685.6,824.1 689.6,824.7 693.7,825.2 698.1,825.8 702.8,826.3 707.8,826.8 713.2,827.3 719.0,827.8 725.1,828.4 731.4,828.9 738.0,829.4 744.6,829.9 751.3,830.4 757.9,830.9 764.5,831.4 771.0,831.8 777.3,832.3 783.3,832.8 789.0,833.2 794.3,833.6 799.2,834.0 803.7,834.3 808.0,834.6 812.1,834.9 816.2,835.2 820.3,835.5 824.5,835.8 829.0,836.2 833.7,836.5 838.9,836.9 844.6,837.3 850.9,837.8 857.9,838.3 865.3,838.8 872.5,839.4 879.9,840.0 887.4,840.6 895.2,841.2 903.4,841.8 912.1,842.5 921.4,843.2 931.4,844.0 942.2,844.8 953.9,845.6 966.6,846.6 980.5,847.6 995.6,848.7 1012.5,849.9 1031.3,851.2 1051.7,852.7 1073.4,854.2 1096.2,855.8 1119.8,857.4 1143.8,859.1 1167.9,860.8 1191.9,862.4 1215.5,864.1 1238.4,865.7 1260.2,867.2 1280.7,868.7 1299.7,870.0 1316.7,871.2 1331.9,872.3 1345.8,873.3 1358.5,874.3 1370.5,875.1 1382.1,876.0 1393.6,876.8 1405.4,877.7 1417.7,878.6 1431.0,879.6 1445.4,880.7 1461.5,881.8 1479.4,883.1 1499.6,884.6 1522.8,886.2 1548.9,888.1 1577.5,890.1 1608.1,892.3 1640.1,894.6 1672.8,896.9 1705.9,899.2 1738.7,901.6 1770.7,903.8 1801.4,906.0 1830.2,908.0 1856.5,909.9 1879.8,911.6 1899.6,913.0 1915.9,914.2 1929.1,915.1 1939.8,915.9 1948.2,916.6 1954.9,917.1 1960.1,917.5 1964.4,917.8 1968.1,918.1 1971.5,918.4 1975.2,918.7 1979.4,919.0 1984.7,919.4 1991.3,919.9 1999.7,920.5 2009.8,921.2 2021.1,922.0 2033.4,922.9 2046.5,923.8 2060.0,924.7 2073.8,925.6 2087.6,926.6 2101.1,927.5 2114.1,928.4 2126.4,929.2 2137.6,930.0 2147.7,930.7 2156.2,931.2 2163.0,931.7 2163.6,921.9 2156.8,921.4 2148.3,920.9 2138.3,920.2 2127.0,919.4 2114.8,918.6 2101.8,917.7 2088.2,916.8 2074.5,915.8 2060.7,914.9 2047.1,914.0 2034.1,913.1 2021.8,912.2 2010.4,911.4 2000.3,910.7 1992.0,910.1 1985.4,909.6 1980.2,909.2 1975.9,908.9 1972.3,908.6 1968.9,908.3 1965.2,908.0 1960.9,907.7 1955.6,907.3 1949.0,906.8 1940.5,906.1 1929.8,905.3 1916.6,904.4 1900.4,903.2 1880.5,901.8 1857.2,900.1 1830.9,898.3 1802.1,896.2 1771.4,894.0 1739.4,891.8 1706.6,889.4 1673.5,887.1 1640.7,884.8 1608.8,882.5 1578.2,880.4 1549.6,878.3 1523.5,876.5 1500.4,874.8 1480.2,873.4 1462.2,872.1 1446.1,870.9 1431.7,869.8 1418.4,868.8 1406.1,867.9 1394.4,867.1 1382.9,866.2 1371.3,865.3 1359.3,864.5 1346.5,863.5 1332.6,862.5 1317.4,861.4 1300.3,860.2 1281.4,858.9 1260.9,857.4 1239.1,855.9 1216.2,854.3 1192.6,852.6 1168.6,851.0 1144.4,849.3 1120.4,847.6 1096.9,846.0 1074.1,844.4 1052.4,842.9 1032.0,841.4 1013.2,840.1 996.4,838.9 981.2,837.8 967.4,836.8 954.6,835.9 942.9,835.0 932.1,834.2 922.1,833.4 912.8,832.7 904.2,832.0 896.0,831.4 888.2,830.8 880.6,830.2 873.3,829.6 866.0,829.1 858.7,828.5 851.7,828.0 845.4,827.5 839.7,827.1 834.5,826.7 829.7,826.4 825.2,826.0 821.0,825.7 816.9,825.4 812.8,825.1 808.7,824.8 804.4,824.5 799.9,824.2 795.1,823.8 789.8,823.4 784.1,823.0 778.0,822.5 771.7,822.1 765.3,821.6 758.7,821.1 752.0,820.6 745.3,820.1 738.7,819.6 732.2,819.1 725.9,818.6 719.9,818.1 714.1,817.5 708.8,817.0 703.8,816.5 699.3,816.0 695.0,815.5 690.9,814.9 687.1,814.3 683.5,813.8 680.1,813.2 676.8,812.7 673.7,812.1 670.8,811.6 668.0,811.0 665.3,810.5 662.6,810.0 660.1,809.6 657.6,809.1 655.4,808.7 653.4,808.4 651.6,808.1 650.0,807.8 648.6,807.5 647.3,807.3 646.1,807.0 644.9,806.8 643.7,806.5 642.6,806.3 641.3,806.0 640.0,805.8 638.6,805.5 637.0,805.1 635.3,804.8 633.5,804.5 631.8,804.1 629.9,803.8 628.1,803.4 626.3,803.0 624.4,802.7 622.5,802.3 620.6,801.9 618.7,801.5 616.8,801.1 614.9,800.7 613.1,800.4 611.2,800.0 609.4,799.6 607.6,799.2 605.7,798.8 603.9,798.4 602.0,798.0 600.2,797.6 598.4,797.2 596.6,796.8 594.8,796.3 592.9,795.9 591.1,795.4 589.3,795.0 587.6,794.5 585.8,794.0 584.0,793.5 582.2,792.9 580.3,792.3 578.5,791.8 576.7,791.2 574.8,790.5 573.0,789.9 571.2,789.3 569.3,788.6 567.5,788.0 565.7,787.3 563.8,786.7 562.0,786.1 560.3,785.4 558.5,784.8 556.7,784.2 555.0,783.6 553.3,783.0 551.5,782.4 549.8,781.8 548.1,781.2 546.5,780.5 544.8,779.9 543.2,779.3 541.6,778.7 540.0,778.1 538.5,777.4 537.0,776.8 535.5,776.2 534.0,775.5 532.6,774.9 531.2,774.3 529.8,773.6 528.4,773.0 527.1,772.3 525.8,771.7 524.4,771.0 523.1,770.3 521.9,769.7 520.6,769.0 519.3,768.3 518.1,767.6 516.8,766.8 515.6,766.1 514.4,765.4 513.2,764.6 512.0,763.9 510.8,763.1 509.7,762.3 508.5,761.6 507.3,760.8 506.2,760.0 505.0,759.1 503.8,758.3 502.6,757.4 501.4,756.6 500.2,755.7 499.0,754.8 497.8,754.0 496.7,753.1 495.5,752.2 494.4,751.4 493.2,750.5 492.1,749.6 491.0,748.6 489.8,747.6 488.6,746.6 487.4,745.5 486.1,744.4 484.9,743.2 483.5,741.9 482.2,740.5 480.8,739.1 479.3,737.6 477.8,736.1 476.3,734.5 474.8,732.9 473.3,731.2 471.7,729.5 470.2,727.9 468.7,726.2 467.1,724.5 465.6,722.9 464.2,721.2 462.7,719.6 461.3,718.0 459.8,716.3 458.3,714.6 456.9,712.9 455.4,711.2 454.0,709.5 452.5,707.8 451.1,706.2 449.7,704.5 448.3,702.9 446.9,701.3 445.5,699.8 444.2,698.3 442.9,696.8 441.7,695.5 440.5,694.3 439.4,693.1 438.3,692.0 437.2,690.9 436.2,689.8 435.2,688.7 434.2,687.6 433.2,686.5 432.2,685.3 431.1,683.9 429.9,682.5 428.7,680.9 427.4,679.2 426.1,677.3 424.7,675.4 423.2,673.4 421.8,671.2 420.3,669.1 418.7,666.8 417.2,664.5 415.6,662.2 414.1,659.9 412.5,657.6 411.0,655.2 409.5,652.9 408.0,650.6 406.5,648.3 405.0,646.0 403.5,643.6 402.0,641.1 400.4,638.7 398.9,636.2 397.4,633.7 395.9,631.2 394.4,628.8 392.9,626.4 391.5,624.0 390.1,621.7 388.8,619.5 387.5,617.3 386.3,615.3 385.2,613.3 384.1,611.4 383.0,609.6 382.0,607.9 381.0,606.1 380.1,604.4 379.1,602.8 378.2,601.1 377.2,599.3 376.3,597.6 375.3,595.8 374.3,593.9 373.2,591.9 372.1,589.9 371.0,587.8 369.9,585.6 368.7,583.5 367.6,581.3 366.4,579.0 365.3,576.8 364.1,574.5 363.0,572.3 361.8,570.0 360.7,567.8 359.6,565.5 358.5,563.3 357.5,561.1 356.4,559.0 355.4,556.8 354.4,554.6 353.4,552.4 352.5,550.2 351.5,548.1 350.5,545.9 349.6,543.7 348.6,541.5 347.7,539.3 346.7,537.1 345.8,535.0 344.8,532.8 343.9,530.6 343.0,528.5 342.0,526.3 341.1,524.2 340.2,522.1 339.3,520.0 338.5,517.9 337.6,515.8 336.7,513.7 335.8,511.6 334.8,509.4 333.9,507.3 333.0,505.1 332.0,502.8 331.0,500.6 330.0,498.3 328.9,496.0 327.9,493.6 326.8,491.3 325.7,489.0 324.6,486.6 323.5,484.2 322.4,481.8 321.3,479.4 320.2,477.0 319.2,474.5 318.1,472.1 317.0,469.6 315.9,467.1 314.8,464.6 313.8,462.1 312.7,459.5 311.6,456.9 310.5,454.2 309.4,451.6 308.4,448.9 307.3,446.2 306.2,443.5 305.1,440.8 304.0,438.1 302.9,435.4 301.8,432.7 300.6,430.1 299.5,427.4 298.4,424.7 297.2,422.0 296.1,419.3 294.9,416.6 293.8,413.8 292.6,411.1 291.4,408.4 290.3,405.8 289.2,403.2 288.1,400.6 287.1,398.1 286.0,395.7 285.0,393.4 284.0,391.0 283.1,388.7 282.1,386.3 281.1,383.9 280.1,381.6 279.1,379.3 278.2,377.1 277.3,375.0 276.5,373.0 275.7,371.1 275.0,369.4 274.3,367.8 273.8,366.5 273.3,365.4" fill="#FF0000"/>
<circle cx="267.8" cy="367.7" r="6.0" fill="#FF0000"/>
<circle cx="2163.3" cy="926.8" r="4.9" fill="#FF0000"/>
<polygon points="2161.4,931.4 2169.1,934.6 2176.8,937.7 2180.4,928.3 2172.9,925.4 2165.2,922.2" fill="#FF0000"/>
<circle cx="2163.3" cy="926.8" r="5.0" fill="#FF0000"/>
<circle cx="2178.6" cy="933.0" r="5.0" fill="#FF0000"/>
<polygon points="2182.5,935.4 2191.9,937.7 2201.8,939.6 2203.8,929.8 2194.1,927.9 2184.9,925.6" fill="#FF0000"/>
<circle cx="2183.7" cy="930.5" r="5.0" fill="#FF0000"/>
<circle cx="2202.8" cy="934.7" r="5.0" fill="#FF0000"/>
<polygon points="263.4,540.1 263.5,542.2 263.6,544.7 263.7,547.5 263.8,550.8 263.9,554.3 264.0,558.0 264.1,562.0 264.3,566.0 264.4,570.2 264.6,574.3 264.7,578.5 264.8,582.5 265.0,586.4 265.1,590.2 265.2,593.7 265.3,597.2 265.5,600.7 265.6,604.2 265.7,607.6 265.8,611.1 265.9,614.6 266.0,618.1 266.2,621.7 266.3,625.4 266.4,629.2 266.6,633.0 266.7,637.0 266.9,641.2 267.1,645.6 267.3,650.3 267.5,655.3 267.7,660.5 268.0,665.9 268.2,671.3 268.4,676.6 268.7,681.9 268.9,687.1 269.1,692.0 269.4,696.7 269.6,701.0 269.7,704.8 269.9,708.2 270.1,711.1 270.2,713.6 270.3,715.7 270.4,717.6 270.5,719.1 270.6,720.5 270.6,721.6 270.7,722.6 270.8,723.6 270.9,724.5 270.9,725.3 271.0,726.3 271.1,727.3 271.2,728.4 271.3,729.6 271.4,730.9 271.6,732.1 271.7,733.3 271.8,734.5 272.0,735.7 272.1,736.8 272.2,737.8 272.4,738.8 272.5,739.8 272.6,740.6 272.7,741.3 272.8,742.0 272.8,742.5 281.6,741.5 281.5,740.9 281.4,740.2 281.3,739.5 281.2,738.6 281.1,737.7 281.0,736.7 280.8,735.7 280.7,734.6 280.6,733.5 280.5,732.4 280.3,731.2 280.2,730.0 280.1,728.8 280.0,727.6 279.9,726.5 279.8,725.5 279.7,724.6 279.6,723.7 279.6,722.9 279.5,722.0 279.4,721.0 279.4,719.9 279.3,718.6 279.2,717.1 279.1,715.3 279.0,713.1 278.8,710.7 278.7,707.8 278.5,704.4 278.3,700.5 278.1,696.3 277.9,691.6 277.7,686.7 277.5,681.5 277.2,676.2 277.0,670.9 276.7,665.5 276.5,660.2 276.3,655.0 276.1,650.0 275.9,645.2 275.7,640.8 275.5,636.7 275.4,632.7 275.2,628.8 275.1,625.1 275.0,621.4 274.8,617.8 274.7,614.3 274.6,610.8 274.5,607.3 274.4,603.9 274.3,600.4 274.1,596.9 274.0,593.4 273.9,589.8 273.8,586.1 273.6,582.2 273.5,578.2 273.4,574.0 273.2,569.9 273.1,565.7 272.9,561.7 272.8,557.7 272.7,554.0 272.6,550.5 272.4,547.2 272.4,544.4 272.3,541.9 272.2,539.9" fill="#B47D41"/>
<circle cx="267.8" cy="540.0" r="4.4" fill="#B47D41"/>
<circle cx="277.2" cy="742.0" r="4.4" fill="#B47D41"/>
<polygon points="269.4,728.6 269.5,729.2 269.6,729.8 269.6,730.5 269.7,731.4 269.8,732.3 269.9,733.4 270.0,734.5 270.1,735.6 270.2,736.8 270.4,738.1 270.5,739.3 270.7,740.6 270.9,741.9 271.1,743.1 271.4,744.4 271.7,745.7 272.0,747.0 272.3,748.4 272.7,749.8 273.0,751.2 273.4,752.6 273.7,754.0 274.1,755.4 274.4,756.7 274.8,758.0 275.1,759.2 275.4,760.3 275.7,761.4 276.0,762.4 276.3,763.4 276.6,764.4 276.8,765.3 277.1,766.1 277.4,767.0 277.6,767.8 277.9,768.5 278.1,769.3 278.4,770.0 278.6,770.7 278.9,771.3 279.1,772.0 279.3,772.6 279.6,773.2 279.8,773.7 280.0,774.2 280.2,774.7 280.4,775.2 280.6,775.8 280.8,776.3 281.1,776.8 281.4,777.3 281.7,777.8 282.1,778.3 282.5,778.8 282.9,779.3 283.3,779.8 283.8,780.3 284.2,780.8 284.7,781.2 285.2,781.6 285.7,782.0 286.1,782.4 286.6,782.8 287.1,783.2 287.6,783.5 288.1,783.9 288.6,784.2 289.2,784.5 289.7,784.8 290.2,785.2 290.8,785.5 291.4,785.8 292.0,786.1 292.6,786.4 293.2,786.6 293.7,786.9 294.3,787.1 294.8,787.3 295.4,787.6 295.9,787.8 296.5,788.1 297.1,788.3 297.6,788.6 298.3,788.9 298.9,789.3 299.7,789.6 300.4,790.0 301.2,790.4 302.0,790.8 302.9,791.2 303.7,791.6 304.6,792.0 305.4,792.5 306.3,792.9 307.1,793.3 308.0,793.8 308.8,794.2 309.6,794.6 310.5,795.0 311.2,795.4 312.0,795.8 312.8,796.2 313.6,796.7 314.4,797.1 315.1,797.5 315.9,797.9 316.7,798.3 317.6,798.8 318.4,799.3 319.3,799.7 320.3,800.2 321.2,800.8 322.2,801.3 323.3,801.9 324.3,802.4 325.4,803.0 326.5,803.6 327.6,804.2 328.7,804.9 329.9,805.5 331.0,806.1 332.2,806.8 333.4,807.5 334.7,808.2 335.9,808.9 337.2,809.6 338.5,810.4 339.9,811.2 341.3,812.0 342.7,812.8 344.1,813.6 345.6,814.5 347.1,815.3 348.5,816.2 350.0,817.1 351.5,817.9 352.9,818.8 354.4,819.7 355.8,820.6 357.2,821.5 358.6,822.3 359.9,823.2 361.2,824.1 362.5,824.9 363.8,825.8 365.1,826.7 366.5,827.6 367.8,828.5 369.1,829.4 370.5,830.3 371.9,831.3 373.4,832.3 374.9,833.3 376.5,834.4 378.2,835.5 379.8,836.7 381.6,837.8 383.3,839.0 385.2,840.3 387.0,841.5 388.9,842.8 390.7,844.1 392.6,845.4 394.5,846.7 396.4,848.0 398.3,849.3 400.1,850.6 402.0,851.9 403.7,853.1 405.2,854.2 406.7,855.3 408.1,856.3 409.5,857.3 410.9,858.4 412.4,859.5 414.0,860.6 415.7,861.8 417.6,863.2 419.7,864.6 422.1,866.2 424.7,868.0 427.7,869.9 431.0,872.1 434.6,874.4 438.5,877.0 442.6,879.6 447.0,882.4 451.5,885.3 456.1,888.3 460.9,891.3 465.6,894.4 470.4,897.4 475.2,900.5 479.9,903.5 484.5,906.4 489.0,909.2 493.1,911.9 497.0,914.3 500.6,916.6 504.0,918.8 507.4,920.9 510.8,923.1 514.3,925.3 518.0,927.7 522.1,930.2 526.5,933.0 531.5,936.2 537.0,939.7 543.3,943.6 550.3,948.1 557.8,952.8 565.4,957.6 573.3,962.6 581.6,967.8 590.2,973.3 599.2,979.0 608.8,985.1 619.0,991.5 629.9,998.4 641.6,1005.8 654.0,1013.7 667.4,1022.2 681.8,1031.3 697.2,1041.1 714.4,1052.0 733.8,1064.3 755.0,1077.8 777.7,1092.2 801.4,1107.3 825.8,1122.8 850.4,1138.5 874.9,1154.1 898.9,1169.3 921.9,1184.0 943.7,1197.8 963.7,1210.6 981.7,1222.0 997.2,1231.9 1010.5,1240.3 1022.3,1247.8 1032.8,1254.5 1042.0,1260.3 1050.1,1265.5 1057.2,1270.0 1063.4,1273.9 1068.8,1277.3 1073.6,1280.4 1077.9,1283.0 1081.7,1285.5 1085.3,1287.8 1088.7,1289.9 1092.1,1292.1 1097.7,1283.1 1094.4,1281.0 1090.9,1278.8 1087.4,1276.6 1083.5,1274.1 1079.2,1271.4 1074.5,1268.4 1069.0,1265.0 1062.8,1261.0 1055.7,1256.6 1047.7,1251.4 1038.4,1245.6 1028.0,1238.9 1016.1,1231.4 1002.8,1222.9 987.4,1213.1 969.4,1201.7 949.3,1188.9 927.6,1175.1 904.5,1160.4 880.6,1145.2 856.1,1129.6 831.5,1113.9 807.1,1098.4 783.4,1083.3 760.7,1068.9 739.4,1055.4 720.0,1043.1 702.8,1032.1 687.4,1022.4 673.1,1013.3 659.7,1004.8 647.2,996.9 635.5,989.5 624.7,982.6 614.4,976.1 604.8,970.1 595.8,964.3 587.2,958.9 579.0,953.7 571.1,948.7 563.4,943.9 555.9,939.1 548.9,934.7 542.7,930.8 537.1,927.3 532.2,924.1 527.7,921.3 523.6,918.7 519.9,916.4 516.4,914.2 513.0,912.0 509.6,909.9 506.2,907.7 502.6,905.4 498.8,903.0 494.6,900.4 490.2,897.5 485.6,894.6 480.9,891.6 476.1,888.5 471.3,885.5 466.5,882.4 461.8,879.4 457.2,876.4 452.7,873.5 448.4,870.8 444.2,868.1 440.4,865.6 436.8,863.2 433.5,861.1 430.6,859.1 428.1,857.4 425.8,855.8 423.7,854.4 421.9,853.1 420.3,851.9 418.7,850.8 417.3,849.7 415.8,848.7 414.4,847.7 413.0,846.6 411.5,845.5 409.8,844.4 408.0,843.1 406.2,841.9 404.3,840.6 402.4,839.3 400.6,838.0 398.7,836.6 396.8,835.3 394.9,834.1 393.0,832.8 391.2,831.5 389.3,830.3 387.6,829.1 385.8,827.9 384.1,826.7 382.5,825.6 380.9,824.5 379.4,823.5 377.9,822.5 376.5,821.5 375.1,820.6 373.7,819.7 372.4,818.7 371.0,817.9 369.7,817.0 368.4,816.1 367.0,815.2 365.6,814.3 364.2,813.4 362.8,812.5 361.3,811.6 359.9,810.7 358.4,809.8 356.8,808.9 355.3,808.0 353.8,807.2 352.3,806.3 350.8,805.4 349.4,804.6 347.9,803.7 346.5,802.9 345.1,802.1 343.7,801.3 342.4,800.6 341.1,799.8 339.8,799.1 338.5,798.4 337.3,797.7 336.1,797.0 334.9,796.4 333.7,795.7 332.6,795.1 331.4,794.5 330.3,793.9 329.3,793.3 328.2,792.7 327.2,792.2 326.2,791.6 325.2,791.1 324.3,790.6 323.4,790.1 322.5,789.6 321.6,789.2 320.8,788.7 320.0,788.3 319.2,787.9 318.4,787.5 317.6,787.1 316.8,786.7 316.0,786.2 315.2,785.8 314.4,785.4 313.5,785.0 312.6,784.5 311.8,784.1 310.9,783.7 310.0,783.2 309.1,782.8 308.3,782.4 307.4,781.9 306.6,781.5 305.8,781.1 305.0,780.7 304.2,780.4 303.5,780.0 302.7,779.7 302.0,779.3 301.3,779.0 300.7,778.7 300.1,778.5 299.5,778.2 298.9,778.0 298.4,777.7 298.0,777.5 297.5,777.3 297.1,777.1 296.8,776.9 296.4,776.7 296.1,776.5 295.8,776.2 295.4,776.0 295.1,775.7 294.7,775.5 294.4,775.2 294.1,775.0 293.8,774.7 293.6,774.5 293.3,774.2 293.1,774.0 292.9,773.7 292.7,773.5 292.6,773.2 292.4,773.0 292.3,772.8 292.2,772.5 292.1,772.3 292.0,772.1 291.9,772.0 291.9,771.8 291.8,771.6 291.7,771.3 291.6,771.1 291.5,770.7 291.4,770.4 291.2,770.0 291.1,769.5 290.9,769.0 290.7,768.4 290.5,767.8 290.2,767.2 290.0,766.6 289.8,766.0 289.6,765.4 289.4,764.7 289.2,764.0 289.0,763.3 288.7,762.6 288.5,761.8 288.3,760.9 288.0,760.1 287.8,759.2 287.5,758.2 287.2,757.1 286.9,756.0 286.6,754.8 286.2,753.5 285.9,752.3 285.6,750.9 285.2,749.6 284.9,748.3 284.6,746.9 284.3,745.6 284.0,744.3 283.7,743.1 283.5,741.9 283.3,740.9 283.1,739.8 282.9,738.8 282.8,737.7 282.6,736.6 282.5,735.5 282.4,734.4 282.3,733.3 282.2,732.3 282.1,731.3 282.0,730.3 282.0,729.5 281.9,728.7 281.8,728.0 281.8,727.4" fill="#B47D41"/>
<circle cx="275.6" cy="728.0" r="6.2" fill="#B47D41"/>
<circle cx="1094.9" cy="1287.6" r="5.3" fill="#B47D41"/>
<g shape-rendering="crispEdges">
<path d="M264.9 484.5V639.4M255.5 484.5H276.7M255.5 639.4H276.7" stroke="#993366" stroke-width="1.4" fill="none"/>
<path d="M276.6 693.4V812.5M258.1 693.4H288.7M258.1 812.5H288.7" stroke="#993366" stroke-width="1.4" fill="none"/>
<path d="M305.5 753.6V807.2M293.5 753.6H317.8M293.5 807.2H317.8" stroke="#993366" stroke-width="1.4" fill="none"/>
<path d="M329.5 777.5V866.5M317.4 777.5H341.9M317.4 866.5H341.9" stroke="#993366" stroke-width="1.4" fill="none"/>
<path d="M401.5 801.6V902.6M383.3 801.6H412.7M383.3 902.6H412.7" stroke="#993366" stroke-width="1.4" fill="none"/>
<path d="M537.7 938.5V1004.5M526.2 938.5H549.9M526.2 1004.5H549.9" stroke="#993366" stroke-width="1.4" fill="none"/>
<path d="M675.5 992.4V1016.3M663.3 992.4H687.8M663.3 1016.3H687.8" stroke="#993366" stroke-width="1.4" fill="none"/>
<path d="M817.5 998.4V1165.3M799.2 998.4H830.1M799.2 1165.3H830.1" stroke="#993366" stroke-width="1.4" fill="none"/>
<path d="M1091.4 1094.5V1165.5M1079.2 1094.5H1103.7M1079.2 1165.5H1103.7" stroke="#993366" stroke-width="1.4" fill="none"/>
</g>
<path d="M293.4 807.2H305.6" stroke="#000" stroke-width="1.6" shape-rendering="crispEdges"/>
<path d="M267.2 356.8L284.2 392.3L250.2 392.3Z" fill="#fff" stroke="#FF0000" stroke-width="7.0" stroke-linejoin="round"/>
<path d="M326.9 513.6L343.9 548.3L309.9 548.3Z" fill="#fff" stroke="#FF0000" stroke-width="7.0" stroke-linejoin="round"/>
<path d="M398.5 609.0L415.5 642.8L381.5 642.8Z" fill="#fff" stroke="#FF0000" stroke-width="7.0" stroke-linejoin="round"/>
<path d="M463.9 638.9L480.9 674.2L446.9 674.2Z" fill="#fff" stroke="#FF0000" stroke-width="7.0" stroke-linejoin="round"/>
<path d="M535.2 746.5L552.2 780.7L518.2 780.7Z" fill="#fff" stroke="#FF0000" stroke-width="7.0" stroke-linejoin="round"/>
<path d="M671.7 788.8L688.7 822.9L654.7 822.9Z" fill="#fff" stroke="#FF0000" stroke-width="7.0" stroke-linejoin="round"/>
<path d="M815.1 812.5L832.1 847.1L798.1 847.1Z" fill="#fff" stroke="#FF0000" stroke-width="7.0" stroke-linejoin="round"/>
<path d="M1088.6 801.1L1105.6 835.1L1071.6 835.1Z" fill="#fff" stroke="#FF0000" stroke-width="7.0" stroke-linejoin="round"/>
<path d="M1647.4 872.3L1664.4 906.1L1630.4 906.1Z" fill="#fff" stroke="#FF0000" stroke-width="7.0" stroke-linejoin="round"/>
<path d="M2200.9 1039.5L2217.9 1073.8L2183.9 1073.8Z" fill="#fff" stroke="#FF0000" stroke-width="7.0" stroke-linejoin="round"/>
<rect x="249.9" y="327.6" width="29.5" height="29.5" fill="#fff" stroke="#1019F9" stroke-width="5.0" stroke-linejoin="round"/>
<rect x="309.4" y="536.8" width="29.5" height="29.5" fill="#fff" stroke="#1019F9" stroke-width="5.0" stroke-linejoin="round"/>
<rect x="380.9" y="770.1" width="29.5" height="29.5" fill="#fff" stroke="#1019F9" stroke-width="5.0" stroke-linejoin="round"/>
<rect x="446.1" y="709.6" width="29.5" height="29.5" fill="#fff" stroke="#1019F9" stroke-width="5.0" stroke-linejoin="round"/>
<rect x="517.5" y="811.6" width="29.5" height="29.5" fill="#fff" stroke="#1019F9" stroke-width="5.0" stroke-linejoin="round"/>
<rect x="654.2" y="889.2" width="29.5" height="29.5" fill="#fff" stroke="#1019F9" stroke-width="5.0" stroke-linejoin="round"/>
<rect x="797.1" y="943.2" width="29.5" height="29.5" fill="#fff" stroke="#1019F9" stroke-width="5.0" stroke-linejoin="round"/>
<rect x="1070.8" y="901.2" width="29.5" height="29.5" fill="#fff" stroke="#1019F9" stroke-width="5.0" stroke-linejoin="round"/>
<rect x="1629.8" y="1038.8" width="29.5" height="29.5" fill="#fff" stroke="#1019F9" stroke-width="5.0" stroke-linejoin="round"/>
<rect x="2183.2" y="1158.3" width="29.5" height="29.5" fill="#fff" stroke="#1019F9" stroke-width="5.0" stroke-linejoin="round"/>
<circle cx="258.8" cy="539.3" r="14.7" fill="#fff" stroke="#B47D41" stroke-width="6.0"/>
<circle cx="270.7" cy="736.9" r="14.7" fill="#fff" stroke="#B47D41" stroke-width="6.0"/>
<circle cx="300.4" cy="772.4" r="14.7" fill="#fff" stroke="#B47D41" stroke-width="6.0"/>
<circle cx="323.8" cy="808.4" r="14.7" fill="#fff" stroke="#B47D41" stroke-width="6.0"/>
<circle cx="395.6" cy="838.1" r="14.7" fill="#fff" stroke="#B47D41" stroke-width="6.0"/>
<circle cx="532.4" cy="963.7" r="14.7" fill="#fff" stroke="#B47D41" stroke-width="6.0"/>
<circle cx="669.1" cy="999.4" r="14.7" fill="#fff" stroke="#B47D41" stroke-width="6.0"/>
<circle cx="811.7" cy="1053.6" r="14.7" fill="#fff" stroke="#B47D41" stroke-width="6.0"/>
<circle cx="1085.8" cy="1119.1" r="14.7" fill="#fff" stroke="#B47D41" stroke-width="6.0"/>
<path d="M270.6 754.4V758.9M312.3 786.8V791.1M323.5 827.2V831.5M335.6 825.5V831.5M395.5 856.0V860.5M544.6 753.4V758.4M532.2 844.4V848.7M544.4 844.4V848.7M270.3 552.3V557.7M472.5 644.7V650.1M680.6 794.0V798.8M544.5 978.0V981.0M680.2 1013.7V1016.3M811.4 1071.8V1075.9M1085.3 1136.9V1141.6M1097.6 1132.9V1141.6M1097.6 807.3V810.4M2209.2 1045.0V1048.8M2197.2 1191.0V1195.5M2209.2 1191.0V1195.5" stroke="#000" stroke-width="1.3" fill="none" shape-rendering="crispEdges"/>
<path d="M1787.4 185.3L1804.4 220.6L1770.4 220.6Z" fill="#fff" stroke="#FF0000" stroke-width="7.0" stroke-linejoin="round"/>
<rect x="1769.7" y="329.2" width="29.5" height="29.5" fill="#fff" stroke="#1019F9" stroke-width="5.0" stroke-linejoin="round"/>
<circle cx="1787.2" cy="484.6" r="14.7" fill="#fff" stroke="#B47D41" stroke-width="6.0"/>
<text class="lg" transform="scale(0.800 1)" y="223.9" x="2276.5 2312.4 2349.7 2388.4 2410.1 2445.0 2485.7 2537.1 2558.4 2580.0 2613.3 2656.6">PTX-PEG-(FA)</text>
<text class="lg" x="2136.3" y="242.3" style="font-size:36px" textLength="20" lengthAdjust="spacingAndGlyphs">3</text>
<text class="lg" transform="scale(0.800 1)" y="361.9" x="2276.5 2312.4 2349.7 2388.4 2410.1 2445.0 2485.7 2537.1 2554.7 2591.6">PTX-PEG-FA</text>
<text class="lg" transform="scale(0.800 1)" y="504.5" x="2276.5 2312.4 2349.7 2388.4 2410.1 2445.0 2485.7">PTX-PEG</text>
</svg></body></html>
